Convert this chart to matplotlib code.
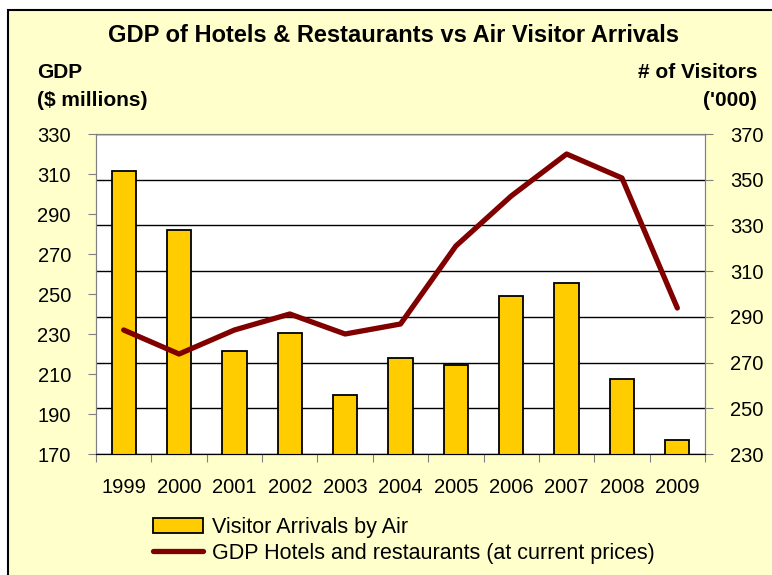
import matplotlib.pyplot as plt
from matplotlib.patches import Rectangle
import numpy as np

plt.rcParams['font.family'] = ['Liberation Sans', 'DejaVu Sans']

years = ['1999', '2000', '2001', '2002', '2003', '2004', '2005', '2006', '2007', '2008', '2009']
# visitor arrivals by air ('000), right axis
visitors = [354, 328, 275, 283, 256, 272, 269, 299, 305, 263, 236]
# GDP hotels & restaurants ($ millions), left axis
gdp = [232, 220, 232, 240, 230, 235, 274, 299, 320, 308, 243]

gdp_ticks = [170, 190, 210, 230, 250, 270, 290, 310, 330]
vis_ticks = [230, 250, 270, 290, 310, 330, 350, 370]

bg = '#FFFFCC'
fig = plt.figure(figsize=(7.72, 5.75), dpi=100, facecolor='white')
# outer chart frame (cut off at right/bottom)
fig.add_artist(Rectangle((8 / 772, -0.1), 1.2, 1 - 10 / 575 + 0.1, transform=fig.transFigure,
                         facecolor=bg, edgecolor='black', linewidth=1.5, zorder=0))

ax2 = fig.add_axes([96 / 772, 1 - 454 / 575, 609 / 772, 320 / 575])
ax = ax2.twinx()
ax.yaxis.tick_left()
ax2.yaxis.tick_right()
ax.set_zorder(ax2.get_zorder() + 1)
ax.patch.set_visible(False)
ax2.set_facecolor('white')

x = np.arange(len(years))
ax2.bar(x, visitors, width=0.44, color='#FFCC00', edgecolor='black', linewidth=1.3,
        label='Visitor Arrivals by Air', zorder=3)
ax2.set_ylim(230, 370)
ax2.set_yticks(vis_ticks)
ax2.grid(axis='y', color='black', linewidth=1)
ax2.set_axisbelow(True)

ax.plot(x, gdp, color='#800000', linewidth=3.8, solid_capstyle='round',
        label='GDP Hotels and restaurants (at current prices)')
ax.set_ylim(170, 330)
ax.set_yticks(gdp_ticks)
ax.set_xlim(-0.5, len(years) - 0.5)

for a in (ax, ax2):
    for s in a.spines.values():
        s.set_color('#808080')
    a.spines['bottom'].set_color('black')

ax2.set_xticks(np.arange(-0.5, len(years)), [''] * (len(years) + 1))
ax2.set_xticks(x, years, minor=True)
ax2.tick_params(axis='x', which='major', length=6, direction='out', color='#808080')
ax2.tick_params(axis='x', which='minor', length=0, pad=17, labelsize=14.5)
ax2.tick_params(axis='y', length=6, pad=12, labelsize=14.5, color='#808080')
ax.tick_params(axis='y', length=6, pad=12, labelsize=14.5, color='#808080')

fig.text(394 / 772, 1 - 35 / 575, 'GDP of Hotels & Restaurants vs Air Visitor Arrivals',
         ha='center', va='center', fontsize=17, fontweight='bold')
fig.text(37 / 772, 1 - 72 / 575, 'GDP', ha='left', va='center', fontsize=15, fontweight='bold')
fig.text(37 / 772, 1 - 100 / 575, '($ millions)', ha='left', va='center', fontsize=15, fontweight='bold')
fig.text(757 / 772, 1 - 72 / 575, '# of Visitors', ha='right', va='center', fontsize=15, fontweight='bold')
fig.text(757 / 772, 1 - 100 / 575, "('000)", ha='right', va='center', fontsize=15, fontweight='bold')

h1, l1 = ax2.get_legend_handles_labels()
h2, l2 = ax.get_legend_handles_labels()
fig.legend(h1 + h2, l1 + l2, loc='upper left', bbox_to_anchor=(144 / 772, 1 - 508 / 575),
           frameon=False, fontsize=15.5, handlelength=2.35, handletextpad=0.4, labelspacing=0.25,
           borderaxespad=0)

fig.savefig('out.png', dpi=100, facecolor='white')
